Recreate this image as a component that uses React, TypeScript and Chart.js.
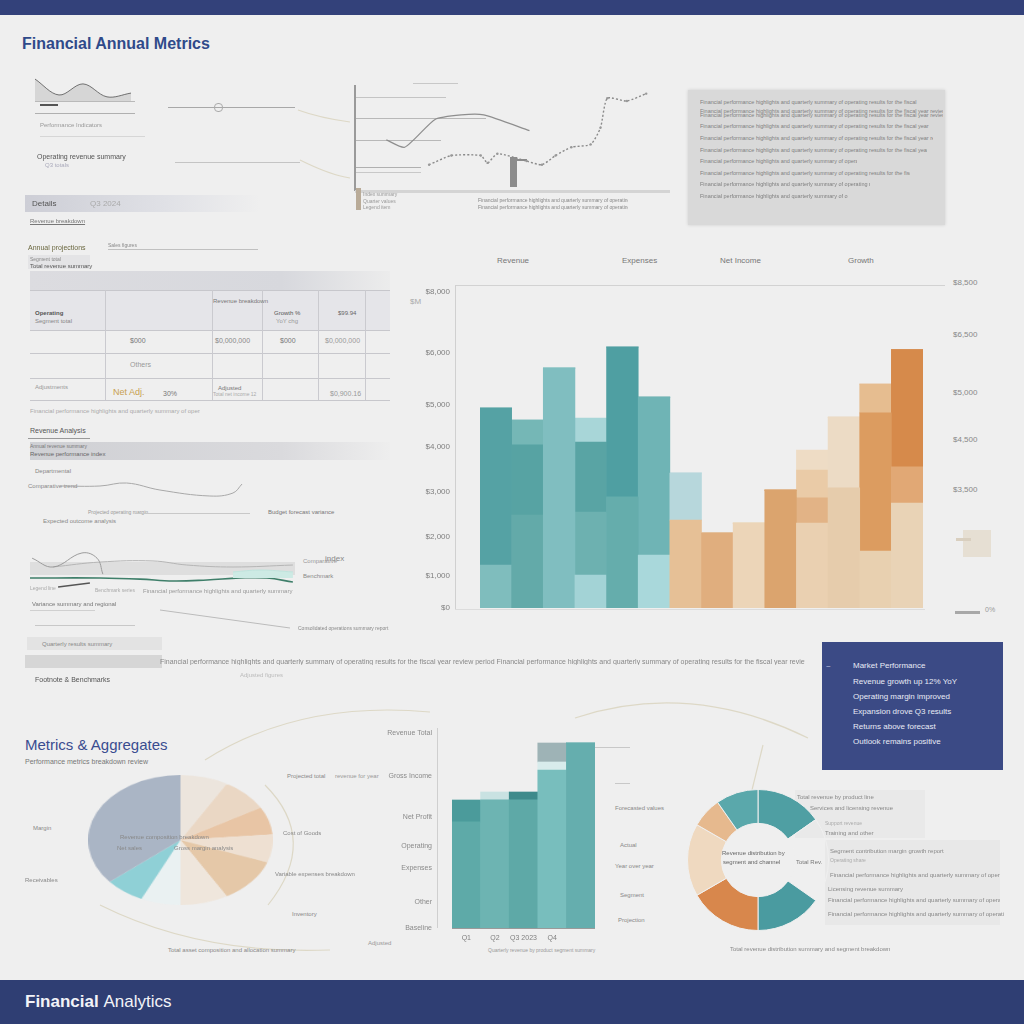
import React, { useEffect, useRef } from "react";
import { Chart, registerables } from "chart.js";
Chart.register(...registerables);

const F = "'Liberation Sans', 'DejaVu Sans', Arial, sans-serif";

// ---------- Main stacked bar chart ----------
const mainCategories = ["Jan", "Feb", "Mar", "Apr", "May", "Jun", "Jul", "Aug", "Sep", "Oct", "Nov", "Dec", "Q1", "Q2"];
const mainBase = [13.3, 28.8, 74.3, 10.2, 34.4, 16.4, 27.2, 23.2, 26.3, 36.5, 26.3, 37.2, 17.6, 32.5];
const mainMid = [48.6, 21.7, 0, 19.5, 46.4, 48.9, 14.6, 0, 0, 0, 7.8, 21.9, 42.8, 11.2];
const mainUpper = [0, 7.7, 0, 21.7, 0, 0, 0, 0, 0, 0, 8.6, 0, 8.9, 36.3];
const mainTop = [0, 0, 0, 7.4, 0, 0, 0, 0, 0, 0, 6.2, 0, 0, 0];
const mainTickValues = [0, 10, 22, 36, 50, 63, 79, 98];
const mainTickLabels = ["$0", "$1,000", "$2,000", "$3,000", "$4,000", "$5,000", "$6,000", "$8,000"];
const mainRightLabels = ["$8,500", "$6,500", "$5,000", "$4,500", "$3,500"];
const mainHeaders = ["Revenue", "Expenses", "Net Income", "Growth"];

const mainBaseColors = ["#7fbdbd", "#63aaa9", "#80bec0", "#a3d3d6", "#65adac", "#a9d8db", "#e6c096", "#e0ae7e", "#ecd5b8", "#dba46e", "#ead0b1", "#e6ccac", "#e8d0b0", "#e9d3b6"];
const mainMidColors = ["#55a2a4", "#57a3a3", "#80bec0", "#6db1b0", "#4f9fa2", "#6fb4b5", "#b7d7dc", "#e0ae7e", "#ecd5b8", "#dba46e", "#e2b386", "#ecdbc5", "#dc9c60", "#e1a875"];
const mainUpperColors = ["#55a2a4", "#75b7b6", "#80bec0", "#59a4a4", "#4f9fa2", "#6fb4b5", "#b7d7dc", "#e0ae7e", "#ecd5b8", "#dba46e", "#eacba7", "#ecdbc5", "#e6bd90", "#d68a4b"];
const mainTopColors = ["#55a2a4", "#75b7b6", "#80bec0", "#a8d6d8", "#4f9fa2", "#6fb4b5", "#b7d7dc", "#e0ae7e", "#ecd5b8", "#dba46e", "#eedcc5", "#ecdbc5", "#e6bd90", "#d68a4b"];

// ---------- Bottom bar chart ----------
const qCategories = ["Q1", "Q2", "Q3 2023", "Q4", ""];
const qBase = [53, 64, 64, 79, 92.5];
const qMid = [0, 0, 0, 4, 0];
const qTop = [11, 4, 4, 9.5, 0];
const qTickValues = [0, 13, 30, 41, 55.5, 76, 97.5];
const qTickLabels = ["Baseline", "Other", "Expenses", "Operating", "Net Profit", "Gross Income", "Revenue Total"];
const qBaseColors = ["#5eaaa8", "#6db4b2", "#5ea9a7", "#78bebd", "#65aeae"];
const qMidColors = ["#5eaaa8", "#6db4b2", "#5ea9a7", "#d8ecec", "#65aeae"];
const qTopColors = ["#4b9b9b", "#c9e2e2", "#3e8a8b", "#9eb3b6", "#65aeae"];

// ---------- Pie ----------
const pieLabels = ["Cash", "Receivables", "Inventory", "Prepaid", "Equipment", "Other", "Intangibles", "Deposits", "Fixed Assets"];
const pieValues = [30, 30, 25, 25, 40, 30, 25, 25, 130];
const pieColors = ["#ece5dd", "#ead7c4", "#e8c5a5", "#eee0d2", "#e5c8a8", "#efe6dc", "#eaf1f2", "#8fd0d6", "#aab5c5"];

// ---------- Doughnut ----------
const donutLabels = ["Product", "Unallocated", "Services", "Licensing", "Support", "Training", "Other"];
const donutValues = [55, 70, 55, 60, 60, 25, 35];
const donutColors = ["#4f9fa3", "rgba(0,0,0,0)", "#4a9ba0", "#d8874c", "#efd9c0", "#e6b98e", "#5aa8ab"];

// ---------- Top mini area ----------
const miniLabels = ["1", "2", "3", "4", "5"];
const miniValues = [8.5, 2.6, 6.7, 1.9, 3.3];

// ---------- Top line chart ----------
const lineAX = [9.2, 15.4, 25.6, 34.4, 42, 57.4];
const lineAY = [47.6, 40, 68.6, 73.3, 73.3, 57.1];
const lineBX = [23.6, 31.1, 41, 43.3, 46.6, 56.4, 61.6, 66.2, 71.5, 78, 81.3, 83.6, 90.2, 96.7];
const lineBY = [21.9, 31.4, 31.4, 23.8, 33.3, 25.7, 21.9, 31.4, 40, 42.9, 60, 90.5, 87.6, 95.2];

// ---------- Left trend line ----------
const trendX = [0, 21.6, 36, 54, 81, 93.5, 98.4];
const trendY = [5.6, 5.6, 6.8, 4, 1.6, 2.8, 6.4];

// ---------- Left multi-line ----------
const greenX = [0, 26.4, 41.5, 54, 66.8, 79.2, 89.4, 99.2];
const greenY = [40, 40, 38, 34.5, 36.4, 40, 40, 32.7];
const tealX = [76.6, 86.8, 99.2];
const tealY = [51, 54.5, 51];
const gray1X = [0.8, 8.7, 19.6, 25.3, 27.5];
const gray1Y = [76, 60, 85.5, 76, 47];
const gray2X = [8.7, 26.4, 46.4, 59.2, 76.6, 99.2];
const gray2Y = [60, 69, 71, 63.6, 60, 63.6];
const darkX = [10.6, 22.6];
const darkY = [23.6, 31];

const zip = (xs: number[], ys: number[]) => xs.map((x, i) => ({ x, y: ys[i] }));

const base = {
  animation: false as const,
  responsive: true,
  maintainAspectRatio: false,
  plugins: { legend: { display: false }, tooltip: { enabled: false } },
};

function ChartBox({ x, y, w, h, make }: any) {
  const ref = useRef<HTMLCanvasElement>(null);
  useEffect(() => {
    const c = new Chart(ref.current as HTMLCanvasElement, make());
    return () => c.destroy();
  }, []);
  return (
    <div style={{ position: "absolute", left: x, top: y, width: w, height: h }}>
      <canvas ref={ref} />
    </div>
  );
}

function StretchChart({ x, y, w, h, cw, ch, make }: any) {
  const ref = useRef<HTMLCanvasElement>(null);
  useEffect(() => {
    const c = new Chart(ref.current as HTMLCanvasElement, make());
    return () => c.destroy();
  }, []);
  return (
    <canvas
      ref={ref}
      width={cw}
      height={ch}
      style={{ position: "absolute", left: x, top: y, width: w, height: h }}
    />
  );
}

const T = ({ x, y, s = 7, c = "#888", w, b, u, children, ff }: any) => (
  <div
    style={{
      position: "absolute",
      left: x,
      top: y,
      fontSize: s,
      color: c,
      fontFamily: ff || F,
      fontWeight: b ? "bold" : "normal",
      whiteSpace: "nowrap",
      width: w,
      overflow: w ? "hidden" : undefined,
      lineHeight: 1,
      textDecoration: u ? "underline" : undefined,
    }}
  >
    {children}
  </div>
);

const R = ({ x, y, w, h, bg, st }: any) => (
  <div style={{ position: "absolute", left: x, top: y, width: w, height: h, background: bg, ...(st || {}) }} />
);

const filler = "Financial performance highlights and quarterly summary of operating results for the fiscal year review period";

function makeMain() {
  return {
    type: "bar",
    data: {
      labels: mainCategories,
      datasets: [
        { data: mainBase, backgroundColor: mainBaseColors },
        { data: mainMid, backgroundColor: mainMidColors },
        { data: mainUpper, backgroundColor: mainUpperColors },
        { data: mainTop, backgroundColor: mainTopColors },
      ],
    },
    options: {
      ...base,
      layout: { padding: { top: 10, bottom: 12, left: 0, right: 0 } },
      datasets: { bar: { barPercentage: 1, categoryPercentage: 1, borderWidth: 0 } },
      scales: {
        x: { stacked: true, display: false },
        y: {
          stacked: true,
          min: 0,
          max: 100,
          afterFit: (s: any) => { s.width = 75; s.paddingTop = 0; s.paddingBottom = 0; },
          afterBuildTicks: (s: any) => { s.ticks = mainTickValues.map((v) => ({ value: v })); },
          ticks: {
            callback: (v: any) => mainTickLabels[mainTickValues.indexOf(v)] ?? "",
            font: { size: 8, family: F },
            color: "#808080",
            padding: 30,
          },
          grid: { display: false, drawTicks: false },
          border: { display: false },
        },
      },
    },
  };
}

function makeQ() {
  return {
    type: "bar",
    data: {
      labels: qCategories,
      datasets: [
        { data: qBase, backgroundColor: qBaseColors },
        { data: qMid, backgroundColor: qMidColors },
        { data: qTop, backgroundColor: qTopColors },
      ],
    },
    options: {
      ...base,
      layout: { padding: { top: 8, bottom: 0, left: 0, right: 0 } },
      datasets: { bar: { barPercentage: 1, categoryPercentage: 1, borderWidth: 0 } },
      scales: {
        x: {
          stacked: true,
          afterFit: (s: any) => { s.height = 17; s.paddingLeft = 0; s.paddingRight = 0; },
          ticks: { font: { size: 7, family: F }, color: "#808080", padding: 6, maxRotation: 0, minRotation: 0, autoSkip: false },
          grid: { display: false, drawTicks: false },
          border: { display: true, color: "#9a9a9a" },
        },
        y: {
          stacked: true,
          min: 0,
          max: 100,
          afterFit: (s: any) => { s.width = 67; s.paddingTop = 0; s.paddingBottom = 0; },
          afterBuildTicks: (s: any) => { s.ticks = qTickValues.map((v) => ({ value: v })); },
          ticks: {
            callback: (v: any) => qTickLabels[qTickValues.indexOf(v)] ?? "",
            font: { size: 7, family: F },
            color: "#8a8a8a",
            padding: 20,
          },
          grid: { display: false, drawTicks: false },
          border: { display: false },
        },
      },
    },
  };
}

function makePie() {
  return {
    type: "pie",
    data: { labels: pieLabels, datasets: [{ data: pieValues, backgroundColor: pieColors, borderWidth: 0 }] },
    options: { ...base, responsive: false },
  };
}

function makeDonut() {
  return {
    type: "doughnut",
    data: { labels: donutLabels, datasets: [{ data: donutValues, backgroundColor: donutColors, borderWidth: 1, borderColor: "#efefef" }] },
    options: { ...base, cutout: "52%" },
  };
}

function makeMini() {
  return {
    type: "line",
    data: {
      labels: miniLabels,
      datasets: [{ data: miniValues, borderColor: "#6f6f6f", borderWidth: 1, backgroundColor: "#d6d6d6", fill: "origin", pointRadius: 0, tension: 0.35 }],
    },
    options: {
      ...base,
      layout: { padding: 0 },
      scales: { x: { display: false }, y: { display: false, min: 0, max: 10 } },
    },
  };
}

function makeTopLine() {
  return {
    type: "line",
    data: {
      datasets: [
        { data: zip(lineAX, lineAY), borderColor: "#8e8e8e", borderWidth: 1.2, pointRadius: 0, tension: 0.2 },
        { data: zip(lineBX, lineBY), borderColor: "#8a8a8a", borderWidth: 1.4, borderDash: [2, 2], pointRadius: 1.2, pointBackgroundColor: "#999", pointBorderWidth: 0, tension: 0.2 },
      ],
    },
    options: {
      ...base,
      layout: { padding: 0 },
      scales: { x: { type: "linear", display: false, min: 0, max: 100 }, y: { display: false, min: 0, max: 100 } },
    },
  };
}

function makeTrend() {
  return {
    type: "line",
    data: { datasets: [{ data: zip(trendX, trendY), borderColor: "#a8a8a8", borderWidth: 1, pointRadius: 0, tension: 0.4 }] },
    options: {
      ...base,
      layout: { padding: 0 },
      scales: { x: { type: "linear", display: false, min: 0, max: 100 }, y: { display: false, min: 0, max: 10 } },
    },
  };
}

function makeMulti() {
  return {
    type: "line",
    data: {
      datasets: [
        { data: zip(tealX, tealY), borderColor: "#bfe3dc", borderWidth: 1, backgroundColor: "#cdeae4", fill: { value: 40 }, pointRadius: 0, tension: 0.4 },
        { data: zip(greenX, greenY), borderColor: "#3f7f6a", borderWidth: 1.6, pointRadius: 0, tension: 0.4 },
        { data: zip(gray1X, gray1Y), borderColor: "#9b9b9b", borderWidth: 1, pointRadius: 0, tension: 0.4 },
        { data: zip(gray2X, gray2Y), borderColor: "#b5b5b5", borderWidth: 1, pointRadius: 0, tension: 0.4 },
        { data: zip(darkX, darkY), borderColor: "#555", borderWidth: 1.4, pointRadius: 0 },
      ],
    },
    options: {
      ...base,
      layout: { padding: 0 },
      scales: { x: { type: "linear", display: false, min: 0, max: 100 }, y: { display: false, min: 0, max: 100 } },
    },
  };
}

export default function App() {
  const rightLabelY = [279, 331, 389, 436, 486];
  const headerX = [497, 622, 720, 848];
  const boxLines = [
    [100, 217], [109, 243], [113, 243], [124, 230], [136, 233], [148, 227], [159, 157], [171, 210], [182, 170], [194, 148],
  ];
  const navyLines = [
    ["Revenue growth up 12% YoY", 678],
    ["Operating margin improved", 693],
    ["Expansion drove Q3 results", 708],
    ["Returns above forecast", 723],
    ["Outlook remains positive", 738],
  ];
  return (
    <div style={{ position: "absolute", left: 0, top: 0, width: 1024, height: 1024, background: "#efefef", overflow: "hidden", fontFamily: F }}>
      {/* header & footer */}
      <R x={0} y={0} w={1024} h={15} bg="#33417a" />
      <R x={0} y={980} w={1024} h={44} bg="#2f3e73" />
      <T x={25} y={993} s={17} c="#f2f3f8" b>Financial <span style={{ fontWeight: "normal" }}>Analytics</span></T>

      {/* Title */}
      <T x={22} y={36} s={16} c="#2f4a8a" b>Financial Annual Metrics</T>

      {/* decorative arcs */}
      <svg width={1024} height={1024} style={{ position: "absolute", left: 0, top: 0 }}>
        <g fill="none" stroke="#ddd8c6" strokeWidth={1.2}>
          <path d="M205 760 Q 300 700 430 712" />
          <path d="M265 785 Q 320 840 268 905" />
          <path d="M100 905 Q 200 955 330 950" />
          <path d="M575 718 Q 690 680 808 738" />
          <path d="M763 745 L 752 790" />
          <path d="M300 160 Q 330 175 350 178" />
          <path d="M298 110 Q 320 118 350 122" />
        </g>
      </svg>

      {/* ---- top left mini chart block ---- */}
      <ChartBox x={35} y={75} w={96} h={27} make={makeMini} />
      <R x={35} y={101} w={100} h={1} bg="#b9b9b9" />
      <R x={40} y={104} w={18} h={1.5} bg="#555" />
      <R x={35} y={113} w={100} h={1} bg="#b0b0b0" />
      <T x={40} y={122} s={6} c="#999">Performance Indicators</T>
      <R x={40} y={136} w={105} h={1} bg="#d6d6d6" />
      <T x={37} y={153} s={7} c="#555">Operating revenue summary</T>
      <T x={45} y={162} s={6} c="#aab">Q3 totals</T>
      <R x={168} y={107} w={127} h={1} bg="#a8a8a8" />
      <div style={{ position: "absolute", left: 214, top: 103, width: 7, height: 7, borderRadius: 4, border: "1px solid #aaa" }} />
      <R x={175} y={162} w={125} h={1} bg="#c4c4c4" />

      {/* ---- top middle line chart ---- */}
      <R x={354} y={85} w={2} h={106} bg="#9a9a9a" />
      <R x={356} y={97} w={90} h={1} bg="#c4c4c4" />
      <R x={413} y={83} w={45} h={1} bg="#c8c8c8" />
      <R x={356} y={118} w={130} h={1} bg="#b8b8b8" />
      <R x={356} y={140} w={85} h={1} bg="#b8b8b8" />
      <R x={356} y={167} w={65} h={1} bg="#b0b0b0" />
      <R x={356} y={172} w={65} h={1} bg="#c8c8c8" />
      <R x={510} y={157} w={7} h={30} bg="#8c8c8c" />
      <R x={517} y={159} w={10} h={1.5} bg="#8c8c8c" />
      <ChartBox x={355} y={85} w={305} h={105} make={makeTopLine} />
      <R x={355} y={190} w={315} h={3} bg="#d4d4d4" />
      <R x={356} y={188} w={5} h={22} bg="#b9ab98" />
      <T x={363} y={192} s={5} c="#999">Index summary</T>
      <T x={363} y={199} s={5} c="#999">Quarter values</T>
      <T x={363} y={205} s={5} c="#999">Legend item</T>
      <T x={478} y={198} s={5} c="#888" w={150}>{filler}</T>
      <T x={478} y={205} s={5} c="#888" w={150}>{filler}</T>

      {/* ---- top right text box ---- */}
      <R x={688} y={90} w={257} h={135} bg="#d9d9d9" st={{ boxShadow: "0 0 3px #ccc" }} />
      {boxLines.map(([y, w], i) => (
        <T key={i} x={700} y={y} s={5.5} c="#808080" w={w}>{filler + " " + filler}</T>
      ))}

      {/* ---- left table ---- */}
      <R x={25} y={195} w={235} h={17} bg="linear-gradient(90deg,#cdced6,#e0e1e6 60%,#efefef)" />
      <T x={32} y={200} s={8} c="#555">Details</T>
      <T x={90} y={200} s={8} c="#aaa">Q3 2024</T>
      <T x={30} y={218} s={6} c="#777" u>Revenue breakdown</T>
      <T x={28} y={244} s={7} c="#6b6840">Annual projections</T>
      <T x={108} y={243} s={5} c="#888">Sales figures</T>
      <R x={108} y={249} w={150} h={1} bg="#c0c0c0" />
      <R x={28} y={255} w={62} h={14} bg="#e4e4e6" />
      <T x={30} y={257} s={5} c="#888">Segment total</T>
      <T x={30} y={263} s={6} c="#555">Total revenue summary</T>
      <R x={30} y={271} w={360} h={19} bg="linear-gradient(90deg,#dcdce0,#d7d8dd 70%,#ececec)" />
      <R x={30} y={290} w={360} h={40} bg="#e5e5e9" />
      {[290, 330, 353, 378, 400].map((y) => <R key={y} x={30} y={y} w={360} h={1} bg="#c7c7cc" />)}
      {[105, 212, 262, 318, 365].map((x) => <R key={x} x={x} y={290} w={1} h={110} bg="#cacacf" />)}
      <T x={213} y={298} s={6} c="#777">Revenue breakdown</T>
      <T x={35} y={310} s={6} c="#555" b>Operating</T>
      <T x={35} y={318} s={6} c="#888">Segment total</T>
      <T x={274} y={310} s={6} c="#555">Growth %</T>
      <T x={276} y={318} s={6} c="#999">YoY chg</T>
      <T x={338} y={310} s={6} c="#666">$99.94</T>
      <T x={130} y={337} s={7} c="#777">$000</T>
      <T x={215} y={337} s={7} c="#888">$0,000,000</T>
      <T x={280} y={337} s={7} c="#777">$000</T>
      <T x={325} y={337} s={7} c="#999">$0,000,000</T>
      <T x={130} y={361} s={7} c="#999">Others</T>
      <T x={35} y={384} s={6} c="#999">Adjustments</T>
      <T x={113} y={388} s={9} c="#c8a050">Net Adj.</T>
      <T x={163} y={390} s={7} c="#777">30%</T>
      <T x={218} y={385} s={6} c="#777">Adjusted</T>
      <T x={213} y={392} s={5} c="#aaa">Total net income 12</T>
      <T x={330} y={390} s={7} c="#999">$0,900.16</T>
      <T x={30} y={408} s={6} c="#aaa" w={170}>{filler}</T>

      {/* ---- revenue analysis ---- */}
      <T x={30} y={427} s={7} c="#555">Revenue Analysis</T>
      <R x={28} y={438} w={62} h={1} bg="#999" />
      <R x={30} y={442} w={360} h={18} bg="linear-gradient(90deg,#cfd0d4,#dadadd 70%,#eeeeee)" />
      <T x={30} y={444} s={5} c="#777">Annual revenue summary</T>
      <T x={30} y={451} s={6} c="#666">Revenue performance index</T>
      <T x={35} y={468} s={6} c="#888">Departmental</T>
      <T x={28} y={483} s={6} c="#888">Comparative trend</T>
      <ChartBox x={60} y={475} w={185} h={25} make={makeTrend} />
      <T x={88} y={510} s={5} c="#999">Projected operating margin</T>
      <R x={135} y={513} w={115} h={1} bg="#c8c8c8" />
      <T x={43} y={518} s={6} c="#888">Expected outcome analysis</T>
      <T x={268} y={509} s={6} c="#777">Budget forecast variance</T>

      <R x={30} y={562} w={265} h={13} bg="#dedede" />
      <ChartBox x={30} y={545} w={265} h={55} make={makeMulti} />
      <T x={303} y={558} s={6} c="#999">Comparative</T>
      <T x={325} y={555} s={8} c="#888">index</T>
      <T x={303} y={573} s={6} c="#888">Benchmark</T>
      <T x={30} y={586} s={5} c="#aaa">Legend line</T>
      <T x={95} y={588} s={5} c="#aaa">Benchmark series</T>
      <T x={143} y={588} s={6} c="#999" w={150}>{filler}</T>
      <T x={32} y={601} s={6} c="#777">Variance summary and regional</T>
      <R x={30} y={610} w={65} h={1} bg="#d0d0d0" />
      <R x={35} y={625} w={100} h={1} bg="#c8c8c8" />
      <svg width={400} height={60} style={{ position: "absolute", left: 0, top: 600 }}>
        <path d="M160 10 L 290 28" stroke="#bbb" strokeWidth={1} fill="none" />
      </svg>
      <T x={298} y={626} s={5} c="#888">Consolidated operations summary report</T>
      <R x={27} y={637} w={135} h={13} bg="#e3e3e3" />
      <T x={42} y={641} s={6} c="#888">Quarterly results summary</T>
      <R x={25} y={655} w={137} h={13} bg="#d6d6d6" />
      <T x={160} y={658} s={7} c="#888" w={645} u>{filler + " " + filler + " " + filler}</T>
      <T x={240} y={672} s={6} c="#bbb">Adjusted figures</T>
      <T x={35} y={676} s={7} c="#555">Footnote &amp; Benchmarks</T>

      {/* ---- main bar chart ---- */}
      {mainHeaders.map((h, i) => (
        <T key={h} x={headerX[i]} y={257} s={8} c="#777">{h}</T>
      ))}
      <R x={455} y={285} w={490} h={1} bg="#d2d2d2" />
      <R x={455} y={285} w={1} h={325} bg="#d0d0d0" />
      <R x={455} y={609} w={470} h={1} bg="#dcdcdc" />
      <T x={410} y={298} s={8} c="#aaa">$M</T>
      <ChartBox x={405} y={275} w={518} h={345} make={makeMain} />
      {mainRightLabels.map((l, i) => (
        <T key={l} x={953} y={rightLabelY[i]} s={8} c="#888">{l}</T>
      ))}
      <R x={963} y={530} w={28} h={27} bg="#e6dfd3" />
      <R x={956} y={538} w={15} h={3} bg="#d9cfbf" />
      <R x={955} y={611} w={25} h={3} bg="#a8a8a8" />
      <T x={985} y={606} s={7} c="#999">0%</T>

      {/* ---- navy box ---- */}
      <R x={822} y={642} w={181} h={128} bg="#3b4a85" />
      <T x={826} y={663} s={8} c="#c8cde8">~</T>
      <T x={853} y={662} s={8} c="#e8eaf5">Market Performance</T>
      {navyLines.map(([t, y]: any) => (
        <T key={t} x={853} y={y} s={8} c="#e8eaf5">{t}</T>
      ))}

      {/* ---- bottom left pie ---- */}
      <T x={25} y={737} s={15} c="#3a4c8f">Metrics &amp; Aggregates</T>
      <T x={25} y={758} s={7} c="#777">Performance metrics breakdown review</T>
      <StretchChart x={88} y={775} w={185} h={130} cw={150} ch={150} make={makePie} />
      <T x={33} y={825} s={6} c="#888">Margin</T>
      <T x={25} y={877} s={6} c="#888">Receivables</T>
      <T x={120} y={834} s={6} c="#888">Revenue composition breakdown</T>
      <T x={117} y={845} s={6} c="#888">Net sales</T>
      <T x={174} y={845} s={6} c="#888">Gross margin analysis</T>
      <T x={283} y={830} s={6} c="#888">Cost of Goods</T>
      <T x={275} y={871} s={6} c="#888">Variable expenses breakdown</T>
      <T x={292} y={911} s={6} c="#888">Inventory</T>
      <T x={168} y={947} s={6} c="#888">Total asset composition and allocation summary</T>
      <T x={368} y={940} s={6} c="#999">Adjusted</T>
      <T x={287} y={773} s={6} c="#888">Projected total</T>
      <T x={335} y={773} s={6} c="#999">revenue for year</T>

      {/* ---- bottom middle bar ---- */}
      <R x={437} y={728} w={1} h={200} bg="#cfcfcf" />
      <ChartBox x={385} y={720} w={210} h={225} make={makeQ} />
      <R x={595} y={747} w={35} h={1} bg="#c8c8c8" />
      <R x={615} y={783} w={15} h={1} bg="#c8c8c8" />
      <T x={615} y={805} s={6} c="#888">Forecasted values</T>
      <T x={620} y={842} s={6} c="#888">Actual</T>
      <T x={615} y={863} s={6} c="#888">Year over year</T>
      <T x={620} y={892} s={6} c="#888">Segment</T>
      <T x={618} y={917} s={6} c="#888">Projection</T>
      <T x={488} y={948} s={5} c="#999">Quarterly revenue by product segment summary</T>

      {/* ---- bottom right doughnut ---- */}
      <R x={795} y={790} w={130} h={48} bg="#e7e7e7" st={{ opacity: 0.8 }} />
      <R x={825} y={840} w={175} h={85} bg="#e6e6e6" st={{ opacity: 0.8 }} />
      <ChartBox x={687} y={789} w={142} h={142} make={makeDonut} />
      <T x={722} y={850} s={6} c="#666">Revenue distribution by</T>
      <T x={723} y={859} s={6} c="#666">segment and channel</T>
      <T x={796} y={859} s={6} c="#777">Total Rev.</T>
      <T x={797} y={794} s={6} c="#888">Total revenue by product line</T>
      <T x={810} y={805} s={6} c="#888">Services and licensing revenue</T>
      <T x={825} y={821} s={5} c="#aaa">Support revenue</T>
      <T x={825} y={830} s={6} c="#888">Training and other</T>
      <T x={830} y={848} s={6} c="#888">Segment contribution margin growth report</T>
      <T x={830} y={858} s={5} c="#aaa">Operating share</T>
      <T x={830} y={872} s={6} c="#888" w={170}>{filler}</T>
      <T x={828} y={886} s={6} c="#888">Licensing revenue summary</T>
      <T x={828} y={897} s={6} c="#888" w={172}>{filler}</T>
      <T x={828} y={911} s={6} c="#888" w={176}>{filler}</T>
      <T x={730} y={946} s={6} c="#888">Total revenue distribution summary and segment breakdown</T>
    </div>
  );
}
